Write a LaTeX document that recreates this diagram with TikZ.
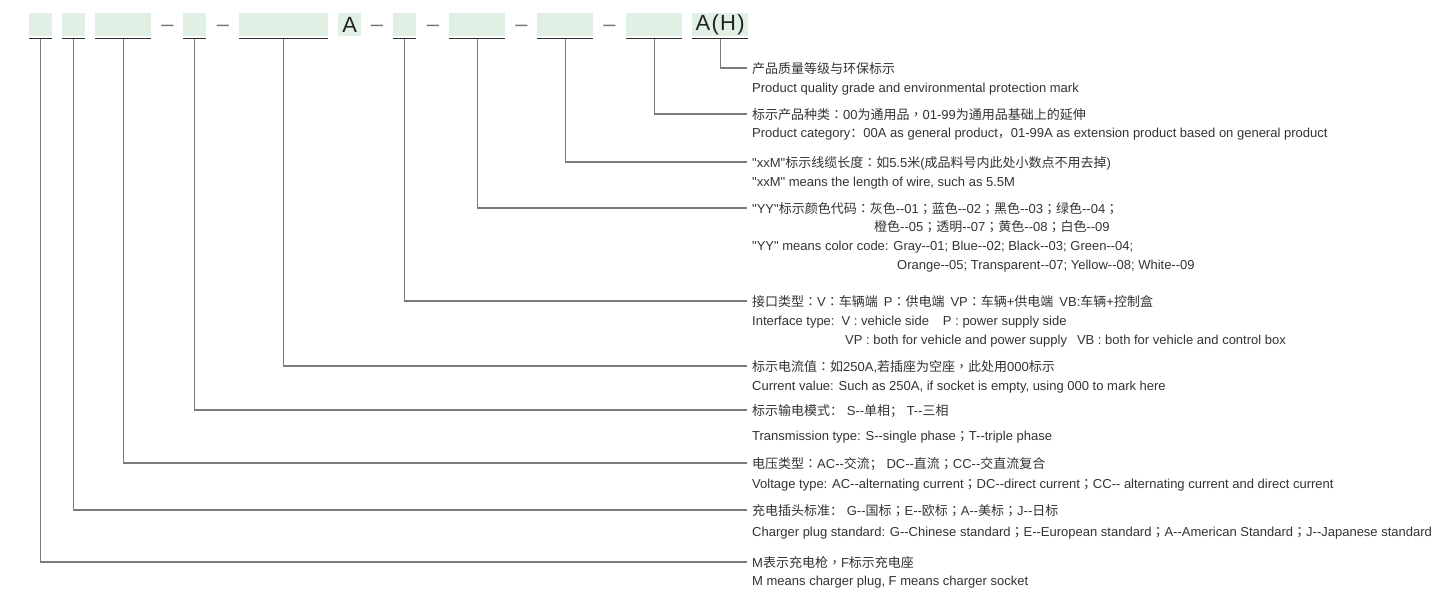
\documentclass[tikz,border=0pt]{standalone}
\usepackage{fontspec}
\setmainfont{Liberation Sans}
\newfontfamily\lat{Liberation Sans}
\newfontfamily\cjk{Noto Sans CJK SC}
\newfontfamily\cjkp{Noto Sans CJK TC}
\newcommand{\zh}[1]{{\cjk #1}}
\newcommand{\fw}[1]{{\cjkp #1}}
\newcommand{\dd}{-\kern0pt-}
\definecolor{boxfill}{HTML}{E1F0E4}
\definecolor{txt}{HTML}{333333}
\definecolor{codetxt}{HTML}{222222}
\definecolor{dashcol}{HTML}{777777}
\definecolor{conncol}{HTML}{7A7A7A}
\definecolor{ulcol}{HTML}{303030}
\begin{document}
\begin{tikzpicture}[x=1pt,y=-1pt,
  codebox/.style={fill=boxfill, draw=none, minimum height=23pt, inner sep=0pt, anchor=north west, text=codetxt, font=\fontsize{22}{22}\selectfont},
  dashtxt/.style={anchor=base, inner sep=0pt, text=dashcol, font=\fontsize{22}{22}\selectfont},
  uline/.style={draw=ulcol, line width=1.2pt},
  conn/.style={draw=conncol, line width=1.1pt},
  lbl/.style={anchor=west, inner xsep=5pt, inner ysep=0pt, text height=10pt, text depth=0pt, text=txt, font=\lat\fontsize{13}{15}\selectfont}]
\useasboundingbox (0,0) rectangle (1454,590);

% code boxes
\node[codebox, minimum width=23pt] (b1) at (29,13) {};
\node[codebox, minimum width=23pt] (b2) at (62,13) {};
\node[codebox, minimum width=56pt] (b3) at (95,13) {};
\node[codebox, minimum width=23pt] (b4) at (183,13) {};
\node[codebox, minimum width=89pt] (b5) at (239,13) {};
\node[codebox, minimum width=23pt] (bA) at (338,13) {A};
\node[codebox, minimum width=23pt] (b6) at (393,13) {};
\node[codebox, minimum width=56pt] (b7) at (449,13) {};
\node[codebox, minimum width=56pt] (b8) at (537,13) {};
\node[codebox, minimum width=56pt] (b9) at (626,13) {};
\node[codebox, minimum width=56pt] (bAH) at (692,13) {\addfontfeature{LetterSpace=6}A(H)};

% dashes
\node[dashtxt] (d1) at (167.5,31) {–};
\node[dashtxt] (d2) at (223,31) {–};
\node[dashtxt] (d3) at (377,31) {–};
\node[dashtxt] (d4) at (433,31) {–};
\node[dashtxt] (d5) at (521.5,31) {–};
\node[dashtxt] (d6) at (609.5,31) {–};

% underlines
\foreach \b in {b1,b2,b3,b4,b5,b6,b7,b8,b9,bAH}{
  \draw[uline] ([yshift=-2.3pt]\b.south west) -- ([yshift=-2.3pt]\b.south east);
  \coordinate (u\b) at ([yshift=-2.3pt]\b.south);
}

% labels
\node[lbl] (c1) at (747,68) {\zh{产品质量等级与环保标示}};
\node[lbl] (e1) at (747,87) {Product quality grade and environmental protection mark};

\node[lbl] (c2) at (747,114) {\zh{标示产品种类}\fw{：}00\zh{为通用品}\fw{，}01-99\zh{为通用品基础上的延伸}};
\node[lbl] (e2) at (747,132) {Product category\zh{：}00A as general product\zh{，}01-99A as extension product based on general product};

\node[lbl] (c3) at (747,162) {"xxM"\zh{标示线缆长度}\fw{：}\zh{如}5.5\zh{米}(\zh{成品料号内此处小数点不用去掉})};
\node[lbl] (e3) at (747,181) {"xxM" means the length of wire, such as 5.5M};

\node[lbl] (c4) at (747,208) {"YY"\zh{标示颜色代码}\fw{：}\zh{灰色}\dd01\fw{；}\zh{蓝色}\dd02\fw{；}\zh{黑色}\dd03\fw{；}\zh{绿色}\dd04\fw{；}};
\node[lbl] (c4b) at (869,226) {\zh{橙色}\dd05\fw{；}\zh{透明}\dd07\fw{；}\zh{黄色}\dd08\fw{；}\zh{白色}\dd09};
\node[lbl] (e4) at (747,245) {"YY" means color code: Gray\dd01; Blue\dd02; Black\dd03; Green\dd04;};
\node[lbl] (e4b) at (892,264) {Orange\dd05; Transparent\dd07; Yellow\dd08; White\dd09};

\node[lbl] (c5) at (747,301) {\zh{接口类型}\fw{：}V\fw{：}\zh{车辆端}\hspace{6pt}P\fw{：}\zh{供电端}\hspace{6pt}VP\fw{：}\zh{车辆}+\zh{供电端}\hspace{6pt}VB:\zh{车辆}+\zh{控制盒}};
\node[lbl] (e5) at (747,320) {Interface type:\hspace{7pt}V : vehicle side\hspace{14pt}P : power supply side};
\node[lbl] (e5b) at (840,339) {VP : both for vehicle and power supply\hspace{10pt}VB : both for vehicle and control box};

\node[lbl] (c6) at (747,366) {\zh{标示电流值}\fw{：}\zh{如}250A,\zh{若插座为空座}\fw{，}\zh{此处用}000\zh{标示}};
\node[lbl] (e6) at (747,385) {Current value: Such as 250A, if socket is empty, using 000 to mark here};

\node[lbl] (c7) at (747,410) {\zh{标示输电模式：} S\dd\zh{单相；} T\dd\zh{三相}};
\node[lbl] (e7) at (747,435) {Transmission type: S\dd single phase\fw{；}T\dd triple phase};

\node[lbl] (c8) at (747,463) {\zh{电压类型}\fw{：}AC\dd\zh{交流；} DC\dd\zh{直流}\fw{；}CC\dd\zh{交直流复合}};
\node[lbl] (e8) at (747,483) {Voltage type: AC\dd alternating current\fw{；}DC\dd direct current\fw{；}CC\dd\ alternating current and direct current};

\node[lbl] (c9) at (747,510) {\zh{充电插头标准：} G\dd\zh{国标}\fw{；}E\dd\zh{欧标}\fw{；}A\dd\zh{美标}\fw{；}J\dd\zh{日标}};
\node[lbl] (e9) at (747,531) {Charger plug standard: G\dd Chinese standard\fw{；}E\dd European standard\fw{；}A\dd American Standard\fw{；}J\dd Japanese standard};

\node[lbl] (c10) at (747,562) {M\zh{表示充电枪}\fw{，}F\zh{标示充电座}};
\node[lbl] (e10) at (747,580) {M means charger plug, F means charger socket};

% connectors
\draw[conn] (ubAH) |- (c1.west);
\draw[conn] (ub9) |- (c2.west);
\draw[conn] (ub8) |- (c3.west);
\draw[conn] (ub7) |- (c4.west);
\draw[conn] (ub6) |- (c5.west);
\draw[conn] (ub5) |- (c6.west);
\draw[conn] (ub4) |- (c7.west);
\draw[conn] (ub3) |- (c8.west);
\draw[conn] (ub2) |- (c9.west);
\draw[conn] (ub1) |- (c10.west);
\end{tikzpicture}
\end{document}
